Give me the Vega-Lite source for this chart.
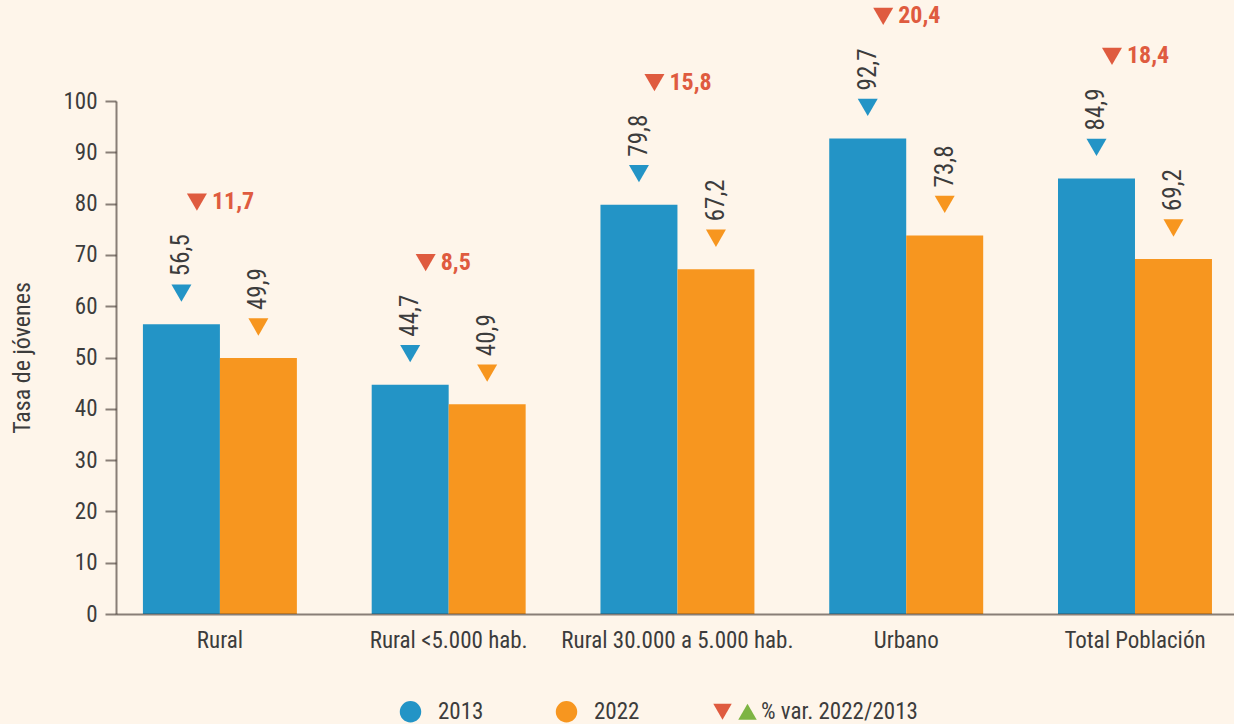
{
  "$schema": "https://vega.github.io/schema/vega-lite/v6.json",
  "width": 1118,
  "height": 513,
  "autosize": "none",
  "padding": {"left": 116, "top": 101, "right": 0, "bottom": 110},
  "background": "#FEF5EA",
  "config": {
    "view": {"stroke": null},
    "font": "Roboto Condensed, Liberation Sans Narrow, Roboto",
    "locale": {"number": {"decimal": ",", "thousands": ".", "grouping": [3], "currency": ["", ""]}}
  },
  "data": {
    "values": [
      {"cat": "Rural", "year": "2013", "value": 56.5, "var": 11.7},
      {"cat": "Rural", "year": "2022", "value": 49.9, "var": 11.7},
      {"cat": "Rural <5.000 hab.", "year": "2013", "value": 44.7, "var": 8.5},
      {"cat": "Rural <5.000 hab.", "year": "2022", "value": 40.9, "var": 8.5},
      {"cat": "Rural 30.000 a 5.000 hab.", "year": "2013", "value": 79.8, "var": 15.8},
      {"cat": "Rural 30.000 a 5.000 hab.", "year": "2022", "value": 67.2, "var": 15.8},
      {"cat": "Urbano", "year": "2013", "value": 92.7, "var": 20.4},
      {"cat": "Urbano", "year": "2022", "value": 73.8, "var": 20.4},
      {"cat": "Total Población", "year": "2013", "value": 84.9, "var": 18.4},
      {"cat": "Total Población", "year": "2022", "value": 69.2, "var": 18.4}
    ]
  },
  "encoding": {
    "x": {
      "field": "cat",
      "type": "nominal",
      "sort": null,
      "scale": {"paddingInner": 0.327, "paddingOuter": 0.107, "align": 0.55},
      "axis": {
        "title": null,
        "labelAngle": 0,
        "ticks": false,
        "labelFontSize": 23,
        "labelLimit": 0,
        "labelColor": "#3c3c3c",
        "labelPadding": 15,
        "domainColor": "#3b2f2a",
        "domainOpacity": 0.6,
        "domainWidth": 2,
        "zindex": 1
      }
    },
    "y": {
      "field": "value",
      "type": "quantitative",
      "scale": {"domain": [0, 100], "nice": false},
      "axis": {
        "title": "Tasa de jóvenes",
        "values": [0, 10, 20, 30, 40, 50, 60, 70, 80, 90, 100],
        "grid": false,
        "tickSize": 11,
        "tickColor": "#3b2f2a",
        "tickOpacity": 0.6,
        "tickWidth": 2,
        "domainColor": "#3b2f2a",
        "domainOpacity": 0.6,
        "domainWidth": 2,
        "labelFontSize": 23,
        "labelColor": "#3c3c3c",
        "labelPadding": 8,
        "titleFontSize": 24,
        "titleFontWeight": "normal",
        "titleColor": "#3c3c3c",
        "titlePadding": 28
      }
    }
  },
  "layer": [
    {
      "mark": {"type": "bar", "opacity": 1},
      "encoding": {
        "xOffset": {"field": "year", "type": "nominal", "scale": {"paddingInner": 0, "paddingOuter": 0}},
        "color": {
          "field": "year",
          "type": "nominal",
          "scale": {"domain": ["2013", "2022"], "range": ["#2394C6", "#F7961F"]},
          "legend": {
            "orient": "none",
            "legendX": 283,
            "legendY": 599,
            "direction": "horizontal",
            "title": null,
            "padding": 0,
            "labelFontSize": 23,
            "labelColor": "#3c3c3c",
            "labelOffset": 16,
            "columnPadding": 71,
            "symbolType": "circle",
            "symbolSize": 460,
            "symbolStrokeWidth": 0,
            "symbolOpacity": 1
          }
        }
      }
    },
    {
      "mark": {"type": "point", "filled": true, "opacity": 1, "size": 400, "shape": "M-1,-3.966L1,-3.966L0,-2.234Z"},
      "encoding": {
        "xOffset": {"field": "year", "type": "nominal"},
        "color": {"field": "year", "type": "nominal"}
      }
    },
    {
      "mark": {"type": "text", "angle": 270, "align": "left", "baseline": "middle", "dx": 48, "fontSize": 25, "color": "#3c3c3c"},
      "encoding": {
        "xOffset": {"field": "year", "type": "nominal"},
        "text": {"field": "value", "type": "quantitative", "format": ".1f"}
      }
    },
    {
      "transform": [{"filter": "false"}],
      "mark": {"type": "point", "filled": true, "opacity": 1},
      "encoding": {
        "fill": {
          "datum": "var_down",
          "type": "nominal",
          "scale": {"domain": ["var_down", "var_up"], "range": ["#DF5B3F", "#7DB443"]},
          "legend": {
            "orient": "none",
            "legendX": 595,
            "legendY": 599,
            "direction": "horizontal",
            "title": null,
            "padding": 0,
            "labelFontSize": 23,
            "labelColor": "#3c3c3c",
            "labelOffset": 2,
            "columnPadding": 0,
            "symbolSize": 340,
            "symbolStrokeWidth": 0,
            "symbolOpacity": 1,
            "labelExpr": "datum.value == 'var_up' ? '% var. 2022/2013' : ''"
          }
        },
        "shape": {
          "datum": "var_down",
          "type": "nominal",
          "scale": {"domain": ["var_down", "var_up"], "range": ["triangle-down", "triangle-up"]}
        }
      }
    },
    {
      "transform": [{"filter": "datum.year == '2013'"}],
      "mark": {"type": "point", "filled": true, "opacity": 1, "size": 400, "shape": "M-3.3,-13.066L-1.3,-13.066L-2.3,-11.334Z"},
      "encoding": {
        "fill": {"datum": "var_down", "type": "nominal"}
      }
    },
    {
      "transform": [{"filter": "datum.year == '2013'"}],
      "mark": {"type": "text", "align": "left", "baseline": "middle", "dx": -8, "dy": -122, "fontSize": 24, "fontWeight": "bold", "color": "#DF5B3F"},
      "encoding": {
        "text": {"field": "var", "type": "quantitative", "format": ".1f"}
      }
    }
  ]
}
